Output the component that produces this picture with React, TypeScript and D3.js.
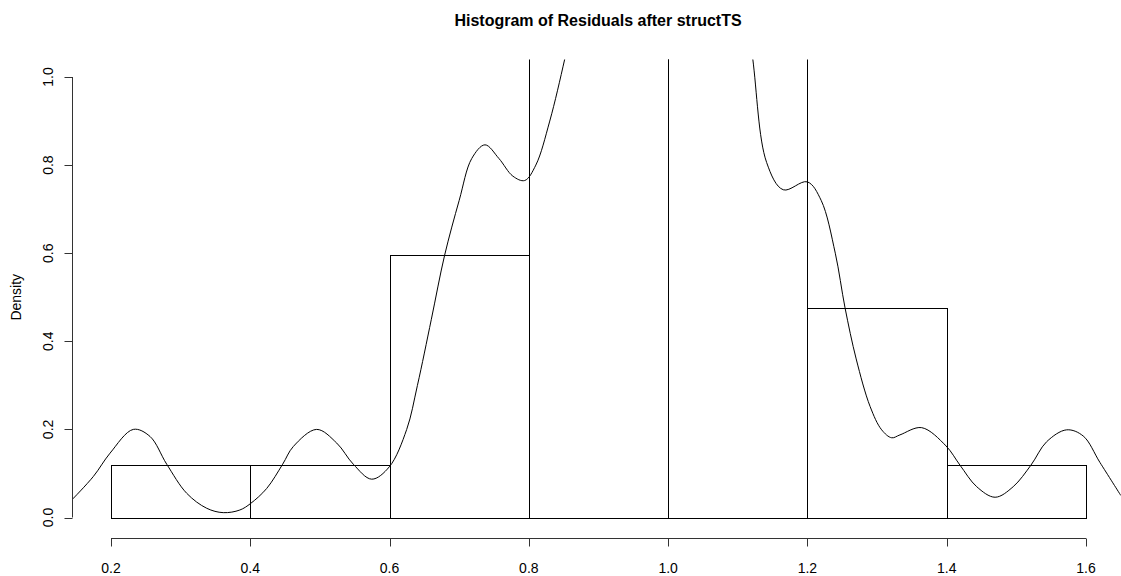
import React from "react";
import * as d3 from "d3";

const title = "Histogram of Residuals after structTS";
const yLabel = "Density";
const binEdges = [0.2, 0.4, 0.6, 0.8, 1.0, 1.2, 1.4, 1.6];
const binDensity = [0.119, 0.119, 0.595, 1.786, 1.786, 0.476, 0.119];
const xTicks = [0.2, 0.4, 0.6, 0.8, 1.0, 1.2, 1.4, 1.6];
const yTicks = [0.0, 0.2, 0.4, 0.6, 0.8, 1.0];
const densityX = [
  0.1444, 0.1746, 0.1986, 0.232, 0.256, 0.28, 0.3087, 0.3374, 0.3612, 0.385, 0.4006,
  0.4236, 0.4465, 0.4617, 0.4953, 0.5241, 0.5479, 0.5743, 0.5996, 0.6246, 0.64, 0.66,
  0.679, 0.7, 0.718, 0.737, 0.757, 0.777, 0.794, 0.81, 0.83, 0.852, 0.88, 0.93, 1.0,
  1.07, 1.105, 1.1213, 1.1414, 1.1653, 1.1997, 1.2197, 1.24, 1.254, 1.27, 1.29, 1.3066,
  1.321, 1.3328, 1.364, 1.399, 1.419, 1.443, 1.4695, 1.4955, 1.521, 1.5435, 1.5722, 1.596,
  1.62, 1.65,
];
const densityY = [
  0.041, 0.093, 0.146, 0.2, 0.184, 0.121, 0.055, 0.021, 0.011, 0.017, 0.032,
  0.066, 0.121, 0.161, 0.2, 0.169, 0.121, 0.087, 0.115, 0.2, 0.3, 0.45,
  0.595, 0.72, 0.815, 0.846, 0.815, 0.775, 0.765, 0.8, 0.9, 1.044, 1.25, 1.55, 1.7,
  1.55, 1.25, 1.044, 0.806, 0.744, 0.762, 0.72, 0.6, 0.476, 0.36, 0.252, 0.199,
  0.181, 0.1875, 0.204, 0.1625, 0.119, 0.07, 0.046, 0.07, 0.119, 0.172, 0.199, 0.185,
  0.125, 0.05,
];

export default function App() {
  const W = 1121;
  const H = 576;
  const x = d3.scaleLinear().domain([0.2, 1.6]).range([111, 1086]);
  const y = d3.scaleLinear().domain([0, 1]).range([517.5, 77]);
  const ext = (1.6 - 0.2) * 0.04;
  const clipL = x(0.2 - ext);
  const clipR = x(1.6 + ext);
  const clipT = y(1.04);
  const clipB = y(-0.04);
  const axisY = 538.5;
  const axisX = 72.5;
  const pts: [number, number][] = densityX.map((v, i) => [v, densityY[i]]);
  const line = d3
    .line<[number, number]>()
    .x((d) => x(d[0]))
    .y((d) => y(d[1]))
    .curve(d3.curveCatmullRom.alpha(0.5));
  const font = "'Liberation Sans', Arial, sans-serif";
  const fmt = d3.format(".1f");
  return (
    <svg width={W} height={H} style={{ position: "absolute", left: 0, top: 0, background: "#fff" }}>
      <defs>
        <clipPath id="plotClip">
          <rect x={clipL} y={clipT} width={clipR - clipL} height={clipB - clipT} />
        </clipPath>
      </defs>
      <text x={598} y={26} textAnchor="middle" fontFamily={font} fontWeight="bold" fontSize={16} fill="#000">
        {title}
      </text>
      <g clipPath="url(#plotClip)">
        {binDensity.map((d, i) => {
          const x0 = Math.round(x(binEdges[i])) + 0.5;
          const x1 = Math.round(x(binEdges[i + 1])) + 0.5;
          const yt = Math.round(y(d)) + 0.5;
          const yb = Math.round(y(0)) + 0.5;
          return (
            <rect key={i} x={x0} y={yt} width={x1 - x0} height={yb - yt} fill="none" stroke="#000" strokeWidth={1} />
          );
        })}
        <path d={line(pts) || ""} fill="none" stroke="#000" strokeWidth={1} />
      </g>
      {/* x axis */}
      <g>
        <line x1={x(0.2)} x2={x(1.6)} y1={axisY} y2={axisY} stroke="#333" strokeWidth={1} />
        {xTicks.map((t) => (
          <g key={t}>
            <line x1={Math.round(x(t)) + 0.5} x2={Math.round(x(t)) + 0.5} y1={axisY} y2={axisY + 8} stroke="#333" />
            <text x={x(t)} y={573} textAnchor="middle" fontFamily={font} fontSize={14} fill="#000">
              {fmt(t)}
            </text>
          </g>
        ))}
      </g>
      {/* y axis */}
      <g>
        <line x1={axisX} x2={axisX} y1={y(0)} y2={y(1)} stroke="#333" strokeWidth={1} />
        {yTicks.map((t) => (
          <g key={t}>
            <line x1={axisX - 8} x2={axisX} y1={Math.round(y(t)) + 0.5} y2={Math.round(y(t)) + 0.5} stroke="#333" />
            <text
              transform={`translate(${53},${y(t)}) rotate(-90)`}
              textAnchor="middle"
              fontFamily={font}
              fontSize={14}
              fill="#000"
            >
              {fmt(t)}
            </text>
          </g>
        ))}
        <text
          transform={`translate(${21},${(clipT + clipB) / 2}) rotate(-90)`}
          textAnchor="middle"
          fontFamily={font}
          fontSize={14}
          fill="#000"
        >
          {yLabel}
        </text>
      </g>
    </svg>
  );
}
